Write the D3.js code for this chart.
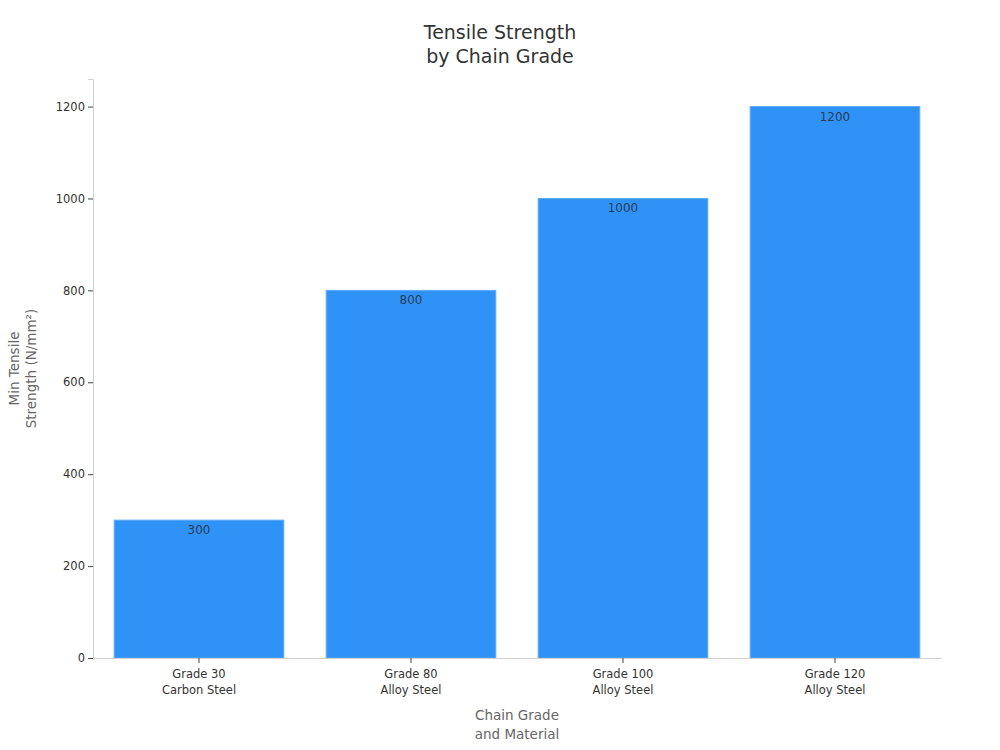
<!DOCTYPE html>
<html>
<head>
<meta charset="utf-8">
<script src="https://cdn.jsdelivr.net/npm/d3@7"></script>
<style>
  body { margin: 0; background: #fff; }
  svg { font-family: "DejaVu Sans", sans-serif; }
</style>
</head>
<body>
<div id="chart"></div>
<script>
// chart data
const grades = ["Grade 30", "Grade 80", "Grade 100", "Grade 120"];
const materials = ["Carbon Steel", "Alloy Steel", "Alloy Steel", "Alloy Steel"];
const strengths = [300, 800, 1000, 1200];
const yTicks = [0, 200, 400, 600, 800, 1000, 1200];

const W = 1000, H = 750;
const margin = {top: 79, right: 59, bottom: 92, left: 93};
const width = W - margin.left - margin.right;
const height = H - margin.top - margin.bottom;

const svg = d3.select("#chart").append("svg")
    .attr("width", W)
    .attr("height", H);

// title
svg.append("text")
    .attr("x", W / 2)
    .attr("text-anchor", "middle")
    .attr("fill", "#333")
    .style("font-size", "19px")
    .selectAll("tspan")
    .data(["Tensile Strength", "by Chain Grade"])
    .join("tspan")
    .attr("x", W / 2)
    .attr("y", (d, i) => 39 + i * 24)
    .text(d => d);

const g = svg.append("g")
    .attr("transform", `translate(${margin.left},${margin.top})`);

const x = d3.scaleBand().domain(grades).range([0, width]).paddingInner(0.2).paddingOuter(0.1);
const y = d3.scaleLinear().domain([0, 1260]).range([height, 0]);

// bars
g.selectAll("rect.bar")
    .data(strengths)
    .join("rect")
    .attr("class", "bar")
    .attr("x", (d, i) => x(grades[i]))
    .attr("y", d => y(d))
    .attr("width", x.bandwidth())
    .attr("height", d => height - y(d))
    .attr("fill", "#2f92f6")
    .attr("stroke", "#5eaaf7")
    .attr("stroke-width", 1);

// value labels
g.selectAll("text.val")
    .data(strengths)
    .join("text")
    .attr("class", "val")
    .attr("x", (d, i) => x(grades[i]) + x.bandwidth() / 2)
    .attr("y", d => y(d) + 14)
    .attr("text-anchor", "middle")
    .attr("fill", "#2b3d55")
    .style("font-size", "12px")
    .text(d => d);

// y axis
const yAxis = g.append("g").call(d3.axisLeft(y).tickValues(yTicks).tickFormat(d3.format("d")).tickSize(5).tickPadding(3));
yAxis.select(".domain").attr("stroke", "#d0d0d0");
yAxis.selectAll(".tick line").attr("stroke", "#444");
yAxis.selectAll(".tick text").attr("fill", "#333").style("font-size", "11.5px").style("font-family", "DejaVu Sans, sans-serif");

// x axis
const xAxis = g.append("g")
    .attr("transform", `translate(0,${height})`)
    .call(d3.axisBottom(x).tickSize(5).tickSizeOuter(0).tickFormat(""));
xAxis.select(".domain").attr("stroke", "#d0d0d0");
xAxis.selectAll(".tick line").attr("stroke", "#444");
xAxis.selectAll(".tick").each(function(d, i) {
    const t = d3.select(this).append("text")
        .attr("text-anchor", "middle")
        .attr("fill", "#333")
        .style("font-size", "11.5px")
        .style("font-family", "DejaVu Sans, sans-serif");
    t.append("tspan").attr("x", 0).attr("y", 20).text(grades[i]);
    t.append("tspan").attr("x", 0).attr("y", 36).text(materials[i]);
});

// x axis title
svg.append("text")
    .attr("text-anchor", "middle")
    .attr("fill", "#666")
    .style("font-size", "13.5px")
    .selectAll("tspan")
    .data(["Chain Grade", "and Material"])
    .join("tspan")
    .attr("x", margin.left + width / 2)
    .attr("y", (d, i) => 720 + i * 19)
    .text(d => d);

// y axis title
const yLabel = svg.append("text")
    .attr("transform", `translate(0,${margin.top + height / 2}) rotate(-90)`)
    .attr("text-anchor", "middle")
    .attr("fill", "#666")
    .style("font-size", "13.5px");
yLabel.selectAll("tspan")
    .data(["Min Tensile", "Strength (N/mm²)"])
    .join("tspan")
    .attr("x", 0)
    .attr("y", (d, i) => 19 + i * 17)
    .text(d => d);
</script>
</body>
</html>
